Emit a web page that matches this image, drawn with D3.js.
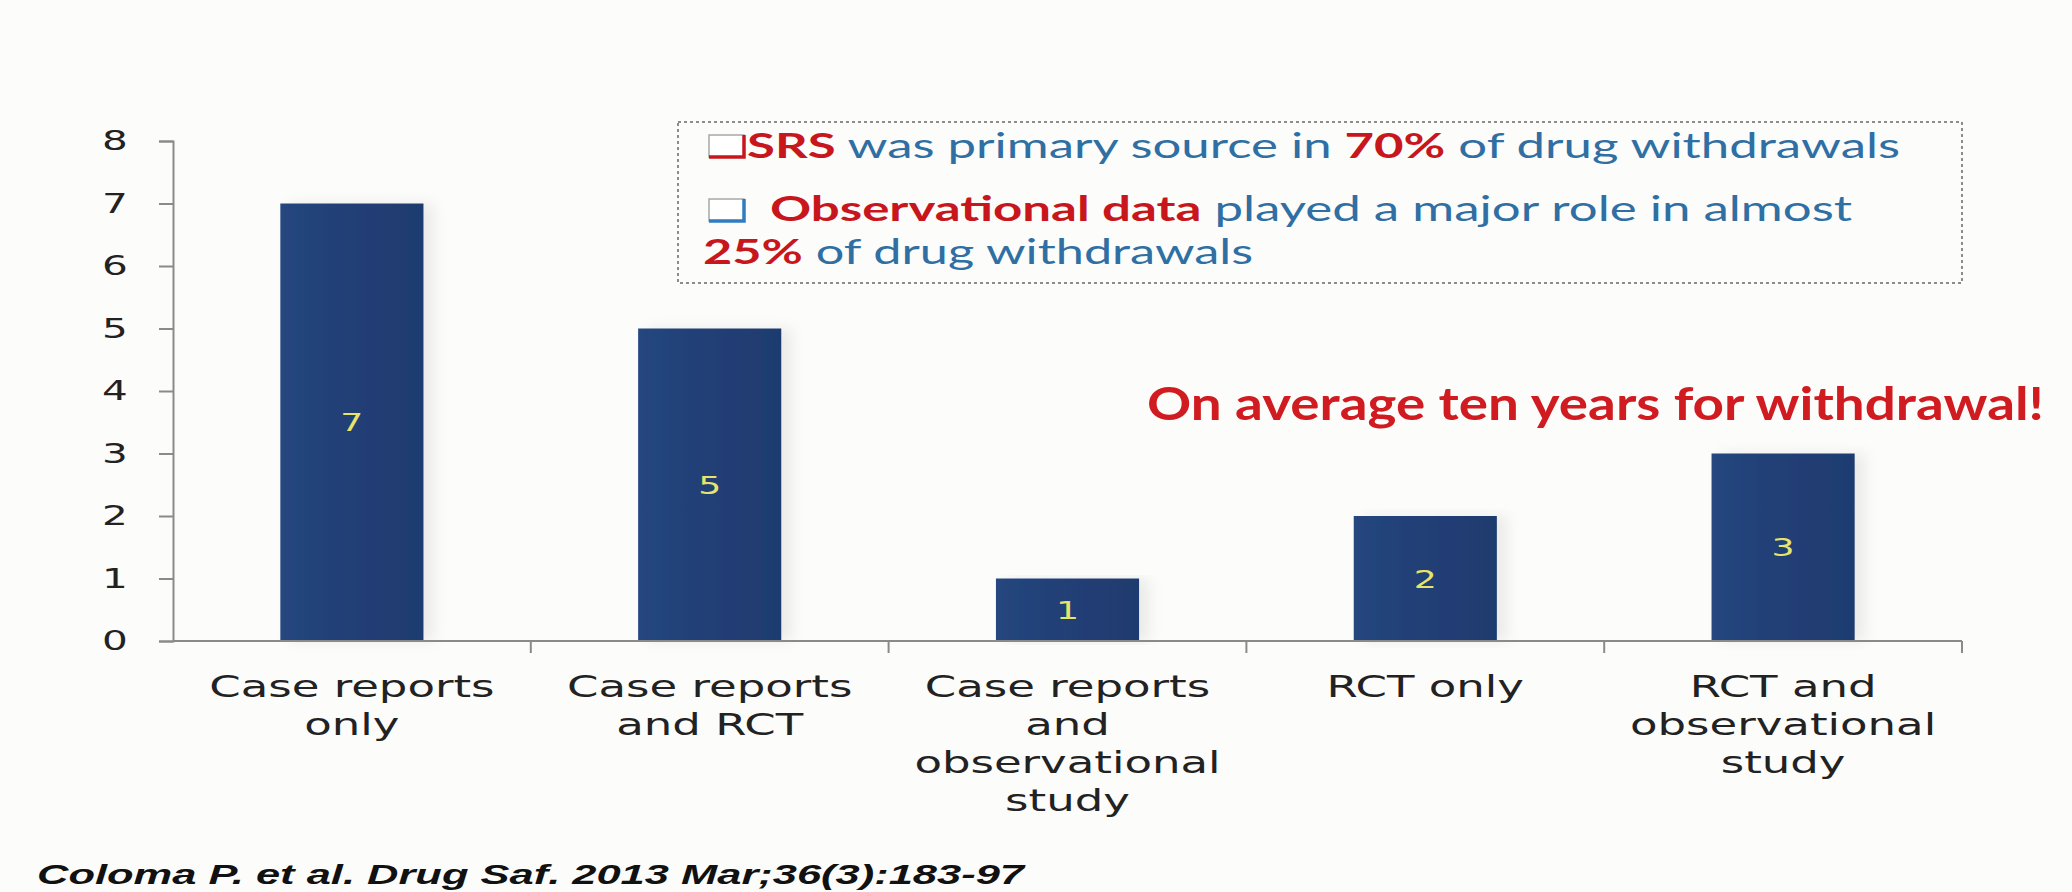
<!DOCTYPE html>
<html>
<head>
<meta charset="utf-8">
<script src="https://cdn.jsdelivr.net/npm/d3@7"></script>
<style>
  html, body { margin: 0; padding: 0; background: #fcfcfb; }
  svg { display: block; }
</style>
</head>
<body>
<svg id="chart" width="2072" height="892"></svg>
<script>
// Evidence type behind drug withdrawals (Coloma et al., 2013)
const categories = [
  ["Case reports", "only"],
  ["Case reports", "and RCT"],
  ["Case reports", "and", "observational", "study"],
  ["RCT only"],
  ["RCT and", "observational", "study"]
];
const counts = [7, 5, 1, 2, 3];
const yTicks = [0, 1, 2, 3, 4, 5, 6, 7, 8];

const noteLines = [
  [{t: "SRS", c: "red", b: true}, {t: " was primary source in ", c: "blue"}, {t: "70%", c: "red", b: true}, {t: " of drug withdrawals", c: "blue"}],
  [{t: "Observational data", c: "red", b: true}, {t: " played a major role in almost", c: "blue"}],
  [{t: "25%", c: "red", b: true}, {t: " of drug withdrawals", c: "blue"}]
];
const headline = "On average ten years for withdrawal!";
const citation = "Coloma P. et al. Drug Saf. 2013 Mar;36(3):183-97";

const RED = "#c8161d", BLUE = "#2f6fa3", BAR = "#213f75", AXIS = "#8a8a8a";
const labelFont = "'DejaVu Sans', sans-serif";
const noteFont = "Lato, 'Open Sans', sans-serif";

const svg = d3.select("#chart");
const defs = svg.append("defs");

// soft shadow cast to the right of each bar
const shadow = defs.append("filter").attr("id", "barShadow")
  .attr("x", "-10%").attr("y", "-5%").attr("width", "140%").attr("height", "110%");
shadow.append("feDropShadow").attr("dx", 10).attr("dy", 0)
  .attr("stdDeviation", 7).attr("flood-color", "#000").attr("flood-opacity", 0.07);

const barGrad = defs.append("linearGradient").attr("id", "barFill")
  .attr("x1", 0).attr("x2", 1).attr("y1", 0).attr("y2", 0);
barGrad.append("stop").attr("offset", 0).attr("stop-color", "#25467f");
barGrad.append("stop").attr("offset", 0.5).attr("stop-color", BAR);
barGrad.append("stop").attr("offset", 1).attr("stop-color", "#1f3b6f");

// horizontal stretch helper: widens glyphs by factor k keeping the anchor
function widen(sel, k) {
  sel.each(function () {
    const w = this.getComputedTextLength();
    d3.select(this).attr("textLength", w * k).attr("lengthAdjust", "spacingAndGlyphs");
  });
}

const plot = {left: 173, right: 1962, top: 141, bottom: 641};

const x = d3.scaleBand()
  .domain(d3.range(categories.length))
  .range([plot.left, plot.right])
  .paddingInner(0.6)
  .paddingOuter(0.3);

const y = d3.scaleLinear().domain([0, 8]).range([plot.bottom, plot.top]);

// bars
svg.append("g").selectAll("rect")
  .data(counts)
  .join("rect")
  .attr("x", (d, i) => x(i))
  .attr("y", d => y(d))
  .attr("width", x.bandwidth())
  .attr("height", d => y(0) - y(d))
  .attr("fill", "url(#barFill)")
  .attr("filter", "url(#barShadow)");

// value labels inside bars
const vals = svg.append("g").selectAll("text")
  .data(counts)
  .join("text")
  .attr("x", (d, i) => x(i) + x.bandwidth() / 2)
  .attr("y", d => (y(d) + y(0)) / 2)
  .attr("dy", "0.36em")
  .attr("text-anchor", "middle")
  .attr("font-family", labelFont)
  .attr("font-size", 25)
  .attr("fill", "#e6e46a")
  .text(d => d);
widen(vals, 1.45);

// y axis
const yAxis = svg.append("g")
  .attr("transform", `translate(${plot.left},0)`)
  .call(d3.axisLeft(y).tickValues(yTicks).tickSize(14).tickPadding(30).tickFormat(d3.format("d")));
yAxis.select(".domain").attr("stroke", AXIS).attr("stroke-width", 2);
yAxis.selectAll(".tick line").attr("stroke", AXIS).attr("stroke-width", 2);
const yLab = yAxis.selectAll(".tick text")
  .attr("font-family", labelFont).attr("font-size", 27).attr("fill", "#222")
  .attr("text-anchor", "middle").attr("x", -58);
widen(yLab, 1.5);

// x axis baseline with ticks at category boundaries
const xAxis = svg.append("g").attr("transform", `translate(0,${y(0)})`);
xAxis.append("line")
  .attr("x1", plot.left).attr("x2", plot.right)
  .attr("stroke", AXIS).attr("stroke-width", 2);
const bounds = d3.range(categories.length).map(i => x(i) + x.bandwidth() / 2 + x.step() / 2);
xAxis.selectAll("line.tick")
  .data(bounds)
  .join("line").attr("class", "tick")
  .attr("x1", d => d).attr("x2", d => d)
  .attr("y1", 0).attr("y2", 12)
  .attr("stroke", AXIS).attr("stroke-width", 2);

// category labels
const catG = svg.append("g");
categories.forEach((lines, i) => {
  const t = catG.selectAll(null)
    .data(lines)
    .join("text")
    .attr("x", x(i) + x.bandwidth() / 2)
    .attr("y", (d, j) => y(0) + 56 + j * 38)
    .attr("text-anchor", "middle")
    .attr("font-family", labelFont)
    .attr("font-size", 30)
    .attr("fill", "#222")
    .text(d => d);
  widen(t, 1.5);
});

// note box
const box = {x: 678, y: 122, w: plot.right - 678, h: 161};
svg.append("rect")
  .attr("x", box.x).attr("y", box.y).attr("width", box.w).attr("height", box.h)
  .attr("fill", "none").attr("stroke", "#8c8c8c").attr("stroke-width", 2)
  .attr("stroke-dasharray", "3,3");

function checkbox(cx, cy, color) {
  const g = svg.append("g").attr("transform", `translate(${cx},${cy})`);
  g.append("rect").attr("x", 0).attr("y", 0).attr("width", 35).attr("height", 22)
    .attr("fill", "#fff").attr("stroke", "#a8a8a8").attr("stroke-width", 1.5);
  g.append("path").attr("d", "M0,22 H35 V0")
    .attr("fill", "none").attr("stroke", color).attr("stroke-width", 3.5);
}
checkbox(709, 135, RED);
checkbox(709, 199, "#2f7cc0");

const noteStarts = [{x: 747, y: 158, w: 1153}, {x: 770, y: 221, w: 1082}, {x: 703, y: 264, w: 550}];
noteLines.forEach((parts, i) => {
  const t = svg.append("text")
    .attr("x", noteStarts[i].x).attr("y", noteStarts[i].y)
    .attr("font-family", noteFont).attr("font-size", 34);
  t.selectAll("tspan").data(parts).join("tspan")
    .attr("fill", d => d.c === "red" ? RED : BLUE)
    .attr("font-weight", d => d.b ? 700 : 400)
    .text(d => d.t);
  t.attr("textLength", noteStarts[i].w).attr("lengthAdjust", "spacingAndGlyphs");
});

// headline
svg.append("text")
  .attr("x", 1147).attr("y", 420)
  .attr("font-family", noteFont).attr("font-weight", 700).attr("font-size", 46)
  .attr("fill", "#d01b20")
  .attr("textLength", 897).attr("lengthAdjust", "spacingAndGlyphs")
  .text(headline);

// source
svg.append("text")
  .attr("x", 37).attr("y", 884)
  .attr("font-family", "'Liberation Sans', Arial, sans-serif")
  .attr("font-weight", 700).attr("font-style", "italic").attr("font-size", 27)
  .attr("fill", "#111")
  .attr("textLength", 987).attr("lengthAdjust", "spacingAndGlyphs")
  .text(citation);
</script>
</body>
</html>
